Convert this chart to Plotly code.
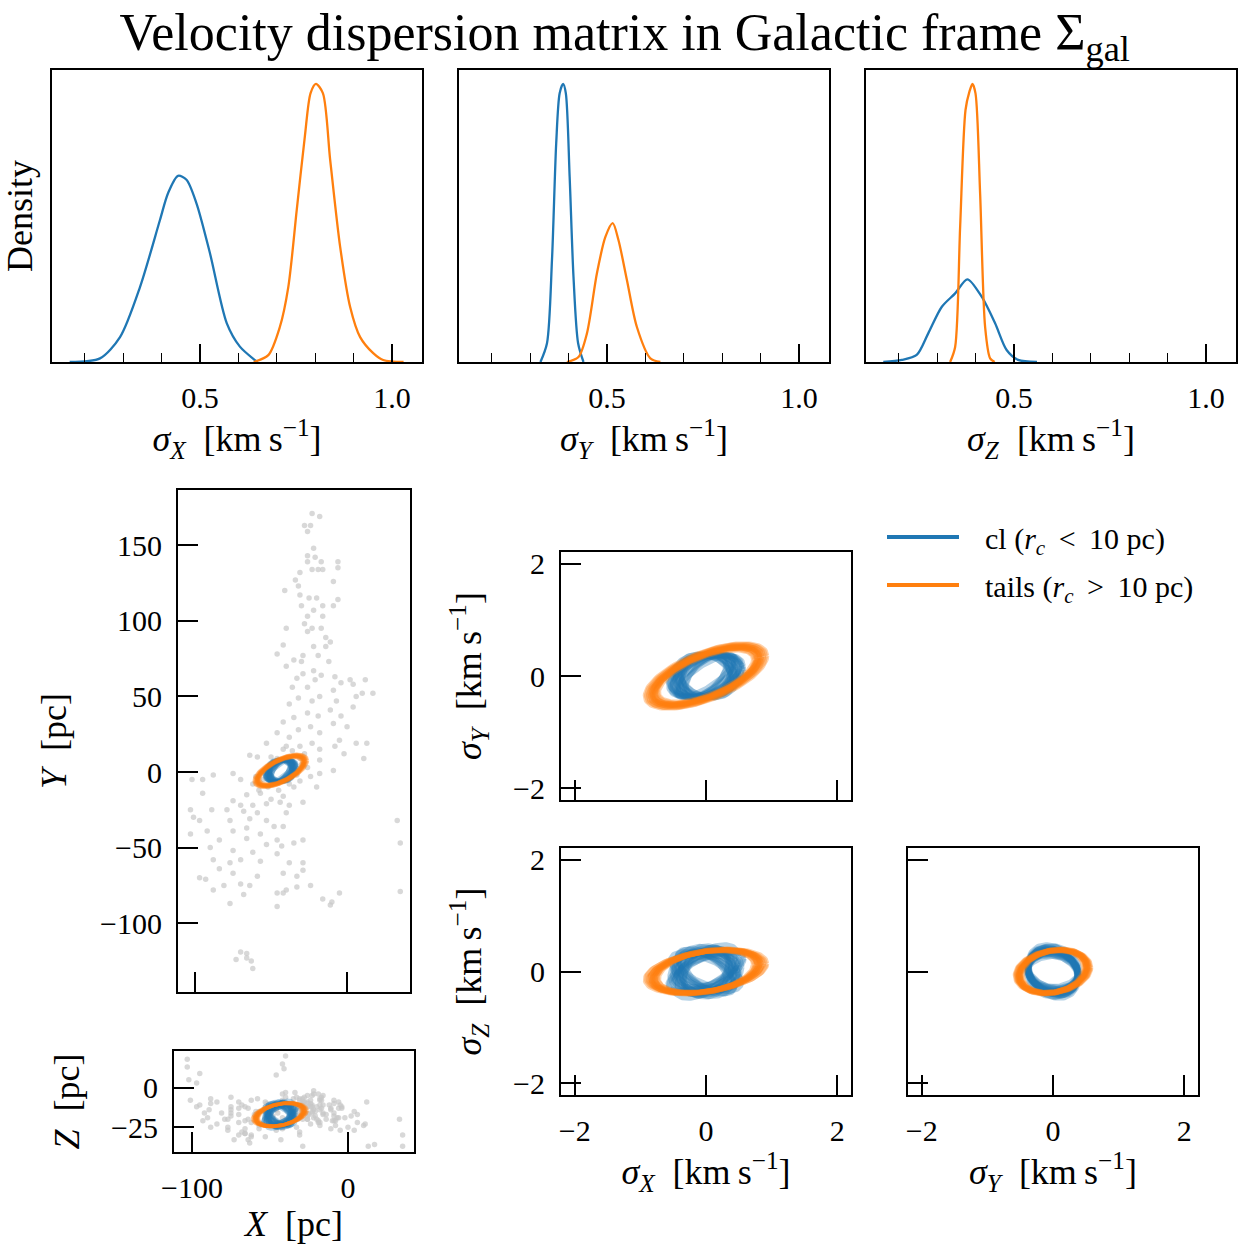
import numpy as np
import plotly.graph_objects as go

W, H = 1242, 1253
FONT = "Liberation Serif"
BLUE = "#1f77b4"
ORANGE = "#ff7f0e"

# ---------------- KDE curves (sigma in km/s, density arbitrary) ----------------
kde_sx_cl_x = [0.161, 0.24, 0.292, 0.344, 0.396, 0.417, 0.443, 0.465, 0.491, 0.526, 0.570, 0.604, 0.643, 0.65]
kde_sx_cl_y = [0, 0.11, 0.76, 2.29, 4.34, 5.16, 5.69, 5.57, 4.85, 3.33, 1.18, 0.47, 0.06, 0]
kde_sx_tl_x = [0.64, 0.678, 0.708, 0.730, 0.752, 0.773, 0.788, 0.802, 0.820, 0.839, 0.865, 0.891, 0.917, 0.951, 0.977, 1.03]
kde_sx_tl_y = [0, 0.21, 1.07, 2.29, 4.65, 6.88, 8.22, 8.50, 8.22, 6.18, 3.52, 1.68, 0.76, 0.27, 0.06, 0]

kde_sy_cl_x = [0.327, 0.344, 0.357, 0.368, 0.377, 0.386, 0.393, 0.403, 0.413, 0.425, 0.439]
kde_sy_cl_y = [0, 1.42, 7.73, 16.57, 20.36, 21.06, 20.36, 14.02, 6.44, 1.42, 0]
kde_sy_tl_x = [0.396, 0.426, 0.448, 0.474, 0.496, 0.515, 0.530, 0.552, 0.578, 0.613, 0.639]
kde_sy_tl_y = [0, 0.38, 2.17, 6.72, 9.47, 10.51, 9.24, 6.21, 2.65, 0.28, 0]

kde_sz_cl_x = [0.160, 0.208, 0.247, 0.277, 0.312, 0.347, 0.379, 0.416, 0.451, 0.481, 0.511, 0.56]
kde_sz_cl_y = [0, 0.13, 0.44, 1.79, 3.44, 4.29, 5.17, 4.08, 2.42, 0.75, 0.13, 0]
kde_sz_tl_x = [0.334, 0.347, 0.360, 0.374, 0.384, 0.392, 0.400, 0.412, 0.425, 0.438, 0.45]
kde_sz_tl_y = [0, 0.94, 8.44, 15.75, 16.88, 17.38, 16.79, 10.54, 2.19, 0.23, 0]

# ---------------- dispersion-matrix posterior samples ----------------
cl_sx = [0.30, 0.35, 0.38, 0.40, 0.42, 0.43, 0.44, 0.45, 0.46, 0.47, 0.49, 0.50, 0.52, 0.55, 0.58, 0.41,
         0.33, 0.37, 0.44, 0.48, 0.51, 0.54, 0.39, 0.57]
cl_sy = [0.37, 0.38, 0.39, 0.37, 0.38, 0.40, 0.38, 0.36, 0.39, 0.38, 0.37, 0.39, 0.38, 0.40, 0.38, 0.39,
         0.38, 0.40, 0.37, 0.39, 0.38, 0.37, 0.41, 0.39]
cl_sz = [0.30, 0.42, 0.36, 0.28, 0.39, 0.45, 0.34, 0.38, 0.41, 0.32, 0.37, 0.48, 0.35, 0.40, 0.38, 0.33,
         0.44, 0.31, 0.40, 0.27, 0.43, 0.36, 0.46, 0.34]
cl_rxy = [0.55, 0.10, 0.35, -0.20, 0.60, 0.25, 0.45, -0.10, 0.70, 0.15, 0.40, 0.05, 0.50, 0.30, 0.20, -0.30,
          0.65, 0.00, 0.80, -0.15, 0.35, 0.55, 0.25, 0.45]
cl_rxz = [-0.40, 0.50, 0.10, -0.60, 0.30, -0.20, 0.65, 0.00, -0.45, 0.40, -0.10, 0.55, -0.30, 0.20, 0.60, -0.50,
          0.35, -0.25, -0.65, 0.45, 0.15, -0.55, 0.05, 0.70]
cl_ryz = [-0.15, -0.25, -0.05, -0.20, -0.30, -0.10, 0.05, -0.20, -0.15, -0.35, -0.10, -0.25, 0.00, -0.20, -0.15, -0.05,
          -0.30, -0.10, -0.20, 0.05, -0.25, -0.15, -0.05, -0.20]

tl_sx = [0.74, 0.77, 0.79, 0.80, 0.81, 0.82, 0.84, 0.86, 0.88, 0.78, 0.83, 0.91, 0.72, 0.93, 0.85, 0.76]
tl_sy = [0.48, 0.50, 0.53, 0.51, 0.52, 0.55, 0.50, 0.54, 0.57, 0.49, 0.52, 0.56, 0.46, 0.58, 0.53, 0.50]
tl_sz = [0.37, 0.38, 0.39, 0.39, 0.38, 0.40, 0.39, 0.40, 0.38, 0.37, 0.41, 0.39, 0.38, 0.40, 0.37, 0.39]
tl_rxy = [0.60, 0.65, 0.62, 0.66, 0.63, 0.61, 0.67, 0.64, 0.62, 0.65, 0.60, 0.63, 0.64, 0.62, 0.66, 0.61]
tl_rxz = [0.30, 0.35, 0.33, 0.38, 0.36, 0.32, 0.40, 0.34, 0.37, 0.31, 0.35, 0.33, 0.34, 0.36, 0.30, 0.38]
tl_ryz = [0.18, 0.22, 0.20, 0.15, 0.25, 0.20, 0.17, 0.23, 0.19, 0.21, 0.24, 0.16, 0.20, 0.18, 0.22, 0.19]

# cluster centre (pc) and scaling used to draw the ellipses in position space
center_X, center_Y, center_Z = -43.6, 0.8, -17.1
pc_per_kms = 19.0

# ---------------- member star positions (pc) ----------------
star_X = [-23, -18, -28, -24, -26, -22, -26, -21, -17, -6, -26, -23, -19, -16, -31, -6, -9, -34, -32, -41,
          -31, -25, -20, -16, -9, -6, -30, -22, -26, -16, -28, -40, -23, -17, -14, -26, -42, -11, -22, -14,
          -46, -29, -19, -35, -30, -12, -40, -22, -29, -17, -8, -33, -21, 2, 12, -4, 4, 10, 17, -36,
          -26, -9, 6, -18, -32, -23, -7, -38, 4, -11, -26, -19, -4, -35, -42, -9, 0, -24, -32, -18,
          -46, -38, -5, 6, 13, -53, -23, -8, -40, -31, -18, -2, 11, -59, -46, -64, -31, -18, -9, -18,
          -24, -31, -70, -75, -88, -102, -95, -62, -35, -20, -95, -57, -66, -42, -38, -75, -70, -62, -53, -29,
          -79, -68, -59, -103, -89, -40, 33, -101, -97, -77, -64, -53, -48, -42, -92, -75, -66, -57, -103, -84,
          -66, -53, -46, -35, -29, 35, -90, -75, -62, -46, -43, -88, -77, -70, -57, -38, -29, -93, -84, -75,
          -59, -42, -33, -29, -88, -81, -70, -64, -40, -33, -24, -97, -77, -68, -46, -42, -16, -10, -5, 35,
          -46, -11, -70, -66, -73, -66, -63, -62,
          -50, -48, -40, -36, -55, -52, -45, -38, -30, -28, -33, -60, -42, -36, -50, -44, -58, -26]
star_Y = [171, 169, 163, 163, 159, 148, 143, 142, 139, 139, 139, 134, 134, 134, 132, 135, 126, 127, 123, 120,
          117, 115, 115, 110, 110, 114, 110, 107, 103, 103, 98, 95, 95, 95, 89, 93, 84, 86, 83, 83,
          78, 77, 77, 74, 73, 73, 70, 67, 65, 64, 63, 62, 61, 61, 61, 59, 58, 52, 52, 56,
          56, 54, 50, 50, 49, 47, 47, 45, 43, 41, 39, 37, 37, 36, 33, 32, 30, 30, 28, 26,
          26, 23, 21, 19, 19, 19, 19, 17, 17, 17, 15, 12, 9, 10, 9, 11, 9, 8, 1, -1,
          -3, -6, -5, -1, -2, -5, -5, -8, -10, -10, -14, -14, -15, -16, -22, -19, -22, -22, -21, -20,
          -25, -26, -27, -25, -25, -27, -32, -30, -32, -32, -31, -32, -36, -36, -39, -39, -37, -41, -41, -45,
          -44, -48, -45, -47, -45, -47, -50, -52, -53, -54, -49, -58, -60, -58, -59, -60, -60, -71, -64, -67,
          -69, -67, -69, -65, -78, -75, -74, -75, -78, -76, -75, -70, -87, -81, -80, -80, -84, -86, -80, -79,
          -89, -88, -119, -120, -124, -123, -125, -130,
          10, 5, 8, 5, -5, -10, -12, -8, 5, 12, -2, -3, 15, 14, -18, -20, -12, 3]
star_Z = [-12, -8, -15, -10, -5, -14, -9, -18, -6, -13, -20, -11, -4, -16, -7, -19, -10, -3, -13, 12,
          -8, -17, -12, -5, -21, -9, -14, -2, -18, -11, -6, 20, -15, -8, -20, -12, 15, -14, -4, -17,
          8, -10, -22, -7, -16, -11, -3, -19, -9, -13, -24, -6, -15, -18, -9, -12, -27, -24, -36, -11,
          -20, -8, -22, -14, -17, -5, -19, -12, -15, -26, -10, -21, -13, -16, -8, -18, -25, -12, -20, -7,
          -14, -23, -11, -17, -37, -9, -16, -21, -6, -13, -24, -19, -23, -15, -10, -20, -28, -11, -16, -22,
          -8, -30, -13, -18, -7, 5, -11, -22, -15, -20, 9, -26, -12, -19, -24, -16, -9, -30, -14, -37,
          -20, -11, -17, 18, -14, -21, -20, -8, 3, -25, -13, -31, -18, -10, -16, -6, -21, -15, 13, -23,
          -29, -12, -27, -19, -11, -37, -19, -14, -8, -22, -33, -10, -27, -17, -24, -13, -20, -21, -9, -12,
          -19, -26, -15, -7, -25, -16, -22, -33, -11, -18, -23, -12, -20, -28, -14, -9, -17, -21, -27, -30,
          -24, -13, -30, -26, -33, -29, -35, -31,
          -15, -20, -12, -18, -23, -10, -16, -21, -14, -9, -25, -17, -4, -19, -13, -22, -7, -16]


def ellipse(sa, sb, rho, n=120):
    t = np.linspace(0, 2 * np.pi, n)
    x = sa * np.cos(t)
    y = sb * (rho * np.cos(t) + np.sqrt(1 - rho ** 2) * np.sin(t))
    return x, y


def dom(x0, x1, y0, y1):
    return [x0 / W, x1 / W], [1 - y1 / H, 1 - y0 / H]


fig = go.Figure()

# ---------------- KDE panels ----------------
kde_sets = [
    (1, kde_sx_cl_x, kde_sx_cl_y, kde_sx_tl_x, kde_sx_tl_y),
    (2, kde_sy_cl_x, kde_sy_cl_y, kde_sy_tl_x, kde_sy_tl_y),
    (3, kde_sz_cl_x, kde_sz_cl_y, kde_sz_tl_x, kde_sz_tl_y),
]
for k, cx, cy, tx, ty in kde_sets:
    for xs, ys, col in [(cx, cy, BLUE), (tx, ty, ORANGE)]:
        fig.add_trace(go.Scatter(x=xs, y=ys, mode="lines", line=dict(color=col, width=2.3, shape="spline", smoothing=0.8),
                                 xaxis=f"x{k}", yaxis=f"y{k}", showlegend=False, hoverinfo="skip"))

# ---------------- position panels ----------------
fig.add_trace(go.Scatter(x=star_X, y=star_Y, mode="markers", marker=dict(color="#c8c8c8", size=5.5, opacity=0.7),
                         xaxis="x4", yaxis="y4", showlegend=False, hoverinfo="skip"))
fig.add_trace(go.Scatter(x=star_X, y=star_Z, mode="markers", marker=dict(color="#c8c8c8", size=5.5, opacity=0.7),
                         xaxis="x5", yaxis="y5", showlegend=False, hoverinfo="skip"))

groups = [
    (BLUE, cl_sx, cl_sy, cl_sz, cl_rxy, cl_rxz, cl_ryz, 0.32, 5.0),
    (ORANGE, tl_sx, tl_sy, tl_sz, tl_rxy, tl_rxz, tl_ryz, 0.35, 4.5),
]
for col, sx, sy, sz, rxy, rxz, ryz, op, lw in groups:
    for i in range(len(sx)):
        # velocity space
        for (a, b, r, k) in [(sx[i], sy[i], rxy[i], 6), (sx[i], sz[i], rxz[i], 7), (sy[i], sz[i], ryz[i], 8)]:
            ex, ey = ellipse(a, b, r)
            fig.add_trace(go.Scatter(x=ex, y=ey, mode="lines", line=dict(color=col, width=lw), opacity=op,
                                     xaxis=f"x{k}", yaxis=f"y{k}", showlegend=False, hoverinfo="skip"))
        # position space
        ex, ey = ellipse(sx[i], sy[i], rxy[i])
        fig.add_trace(go.Scatter(x=center_X + pc_per_kms * ex, y=center_Y + pc_per_kms * ey, mode="lines",
                                 line=dict(color=col, width=lw * 0.7), opacity=op,
                                 xaxis="x4", yaxis="y4", showlegend=False, hoverinfo="skip"))
        ex, ez = ellipse(sx[i], sz[i], rxz[i])
        fig.add_trace(go.Scatter(x=center_X + pc_per_kms * ex, y=center_Z + pc_per_kms * ez, mode="lines",
                                 line=dict(color=col, width=lw * 0.7), opacity=op,
                                 xaxis="x5", yaxis="y5", showlegend=False, hoverinfo="skip"))

# legend entries
fig.add_trace(go.Scatter(x=[None], y=[None], mode="lines", line=dict(color=BLUE, width=4),
                         name="\u2002\u2009cl (<i>r<sub>c</sub></i> \u2009&lt;\u2009 10 pc)", legendgroup="a",
                         xaxis="x6", yaxis="y6"))
fig.add_trace(go.Scatter(x=[None], y=[None], mode="lines", line=dict(color=ORANGE, width=4),
                         name="\u2002\u2009tails (<i>r<sub>c</sub></i> \u2009&gt;\u2009 10 pc)", legendgroup="b",
                         xaxis="x6", yaxis="y6"))

# ---------------- axes ----------------
tickfont = dict(family=FONT, size=30, color="black")
titlefont = dict(family=FONT, size=36, color="black")
unit = "\u2002[km\u2009s<sup>−1</sup>]"


def base(**kw):
    d = dict(showline=True, mirror=True, linecolor="black", linewidth=2, ticks="inside", tickcolor="black",
             tickwidth=2, ticklen=20, showgrid=False, zeroline=False, tickfont=tickfont, ticklabelstandoff=8,
             automargin=False)
    d.update(kw)
    return d


layout = {}
panels = {
    1: dom(52, 422, 70, 362), 2: dom(459, 829, 70, 362), 3: dom(866, 1236, 70, 362),
    4: dom(178, 410, 490, 992), 5: dom(174, 414, 1051, 1152),
    6: dom(561, 851, 552, 800), 7: dom(561, 851, 848, 1095), 8: dom(908, 1198, 848, 1095),
}
kde_titles = {1: "<i>σ<sub>X</sub></i>", 2: "<i>σ<sub>Y</sub></i>", 3: "<i>σ<sub>Z</sub></i>"}
kde_max = {1: max(kde_sx_cl_y + kde_sx_tl_y), 2: max(kde_sy_cl_y + kde_sy_tl_y), 3: max(kde_sz_cl_y + kde_sz_tl_y)}
for k in (1, 2, 3):
    dx, dy = panels[k]
    layout[f"xaxis{k}"] = base(domain=dx, anchor=f"y{k}", range=[0.115, 1.078], tickvals=[0.5, 1.0],
                               ticktext=["0.5", "1.0"], ticklen=18,
                               minor=dict(ticks="inside", ticklen=9, tickwidth=1.3, tickcolor="black", dtick=0.1, tick0=0),
                               title=dict(text=kde_titles[k] + unit, font=titlefont, standoff=4))
    layout[f"yaxis{k}"] = base(domain=dy, anchor=f"x{k}", range=[0, kde_max[k] * 1.05], ticks="",
                               showticklabels=False)
layout["yaxis1"]["title"] = dict(text="Density", font=titlefont, standoff=8)

dx, dy = panels[4]
layout["xaxis4"] = base(domain=dx, anchor="y4", range=[-111.2, 41.4], tickvals=[-100, 0], showticklabels=False)
layout["yaxis4"] = base(domain=dy, anchor="x4", range=[-145.5, 186.5], tickvals=[-100, -50, 0, 50, 100, 150],
                        title=dict(text="<i>Y</i>\u2002[pc]", font=titlefont, standoff=22))
dx, dy = panels[5]
layout["xaxis5"] = base(domain=dx, anchor="y5", range=[-111.5, 42.3], tickvals=[-100, 0],
                        title=dict(text="<i>X</i>\u2002[pc]", font=titlefont, standoff=8))
layout["yaxis5"] = base(domain=dy, anchor="x5", range=[-40.7, 23.2], tickvals=[-25, 0],
                        title=dict(text="<i>Z</i>\u2002[pc]", font=titlefont, standoff=20))

vr = [-2.21, 2.21]
vt = [-2, 0, 2]
dx, dy = panels[6]
layout["xaxis6"] = base(domain=dx, anchor="y6", range=vr, tickvals=vt, showticklabels=False)
layout["yaxis6"] = base(domain=dy, anchor="x6", range=vr, tickvals=vt,
                        title=dict(text="<i>σ<sub>Y</sub></i>" + unit, font=titlefont, standoff=20))
dx, dy = panels[7]
layout["xaxis7"] = base(domain=dx, anchor="y7", range=vr, tickvals=vt,
                        title=dict(text="<i>σ<sub>X</sub></i>" + unit, font=titlefont, standoff=6))
layout["yaxis7"] = base(domain=dy, anchor="x7", range=vr, tickvals=vt,
                        title=dict(text="<i>σ<sub>Z</sub></i>" + unit, font=titlefont, standoff=20))
dx, dy = panels[8]
layout["xaxis8"] = base(domain=dx, anchor="y8", range=vr, tickvals=vt,
                        title=dict(text="<i>σ<sub>Y</sub></i>" + unit, font=titlefont, standoff=6))
layout["yaxis8"] = base(domain=dy, anchor="x8", range=vr, tickvals=vt, showticklabels=False)

fig.update_layout(
    width=W, height=H, margin=dict(l=0, r=0, t=0, b=0, autoexpand=False),
    plot_bgcolor="white", paper_bgcolor="white",
    font=dict(family=FONT, color="black"),
    title=dict(text="Velocity dispersion matrix in Galactic frame Σ<sub>gal</sub>", x=0.503, xanchor="center",
               y=1 - 32 / H, yanchor="middle", font=dict(family=FONT, size=52, color="black")),
    legend=dict(x=882 / W, y=1 - 511 / H, xanchor="left", yanchor="top", font=dict(family=FONT, size=30, color="black"),
                bgcolor="rgba(0,0,0,0)", tracegroupgap=6, itemwidth=72),
    **layout,
)

fig.write_html("out.html", config={"displayModeBar": False},
               post_script="document.body.style.margin='0px';document.body.style.overflow='hidden';")
